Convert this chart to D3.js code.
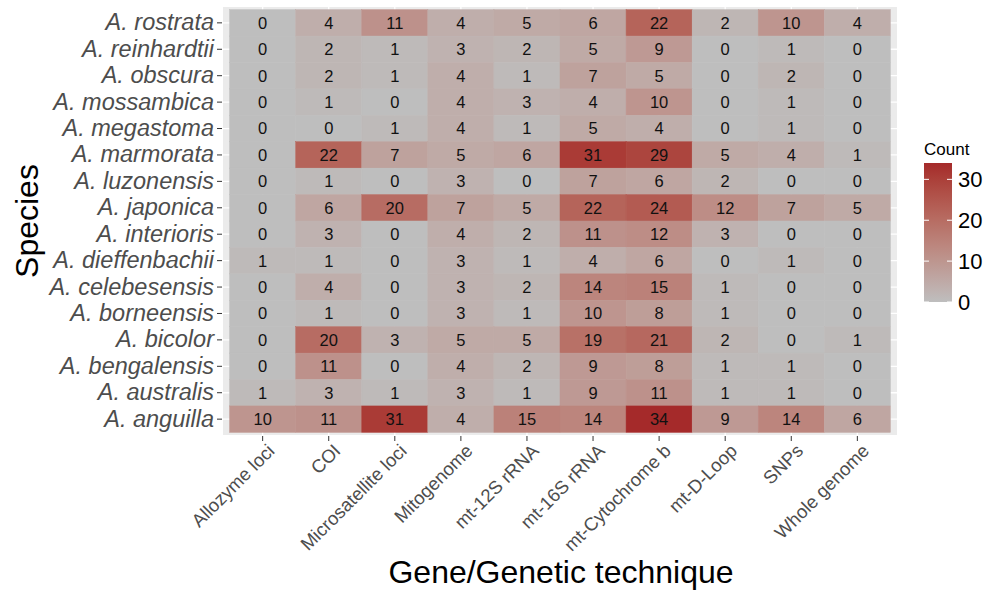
<!DOCTYPE html>
<html>
<head>
<meta charset="utf-8">
<script src="https://cdn.jsdelivr.net/npm/d3@7"></script>
<style>
  body { margin: 0; background: #fff; }
  svg { font-family: "Liberation Sans", Arial, sans-serif; }
</style>
</head>
<body>
<div id="chart"></div>
<script>
'use strict';

// techniques along x
var techniques = ["Allozyme loci", "COI", "Microsatellite loci", "Mitogenome",
    "mt-12S rRNA", "mt-16S rRNA", "mt-Cytochrome b", "mt-D-Loop", "SNPs", "Whole genome"];

// species, top to bottom
var species = ["A. rostrata", "A. reinhardtii", "A. obscura", "A. mossambica",
    "A. megastoma", "A. marmorata", "A. luzonensis", "A. japonica", "A. interioris",
    "A. dieffenbachii", "A. celebesensis", "A. borneensis", "A. bicolor",
    "A. bengalensis", "A. australis", "A. anguilla"];

// counts, one row per species (same order), one column per technique
var counts = [
    [0, 4, 11, 4, 5, 6, 22, 2, 10, 4],
    [0, 2, 1, 3, 2, 5, 9, 0, 1, 0],
    [0, 2, 1, 4, 1, 7, 5, 0, 2, 0],
    [0, 1, 0, 4, 3, 4, 10, 0, 1, 0],
    [0, 0, 1, 4, 1, 5, 4, 0, 1, 0],
    [0, 22, 7, 5, 6, 31, 29, 5, 4, 1],
    [0, 1, 0, 3, 0, 7, 6, 2, 0, 0],
    [0, 6, 20, 7, 5, 22, 24, 12, 7, 5],
    [0, 3, 0, 4, 2, 11, 12, 3, 0, 0],
    [1, 1, 0, 3, 1, 4, 6, 0, 1, 0],
    [0, 4, 0, 3, 2, 14, 15, 1, 0, 0],
    [0, 1, 0, 3, 1, 10, 8, 1, 0, 0],
    [0, 20, 3, 5, 5, 19, 21, 2, 0, 1],
    [0, 11, 0, 4, 2, 9, 8, 1, 1, 0],
    [1, 3, 1, 3, 1, 9, 11, 1, 1, 0],
    [10, 11, 31, 4, 15, 14, 34, 9, 14, 6]
];

var legendTicks = [0, 10, 20, 30];

var W = 989, H = 593;
var panel = { left: 223, right: 897, top: 7, bottom: 435 };

var cells = [];
species.forEach(function(s, i) {
    techniques.forEach(function(t, j) {
        cells.push({ species: s, technique: t, count: counts[i][j] });
    });
});

var maxCount = d3.max(cells, function(d) { return d.count; });

var x = d3.scaleBand().domain(techniques)
    .range([panel.left, panel.right]).paddingInner(0).paddingOuter(0.1);
var y = d3.scaleBand().domain(species)
    .range([panel.top, panel.bottom]).paddingInner(0).paddingOuter(0.1);
var color = d3.scaleLinear().domain([0, maxCount])
    .range(["#BEBEBE", "#A52A2A"]).interpolate(d3.interpolateLab);

var svg = d3.select("#chart").append("svg")
    .attr("width", W).attr("height", H);

// panel background + grid
svg.append("rect")
    .attr("x", panel.left).attr("y", panel.top)
    .attr("width", panel.right - panel.left).attr("height", panel.bottom - panel.top)
    .attr("fill", "#EBEBEB");

svg.append("g").selectAll("line.vx")
    .data(techniques).enter().append("line")
    .attr("x1", function(d) { return x(d) + x.bandwidth() / 2; })
    .attr("x2", function(d) { return x(d) + x.bandwidth() / 2; })
    .attr("y1", panel.top).attr("y2", panel.bottom)
    .attr("stroke", "#fff").attr("stroke-width", 1.3);

svg.append("g").selectAll("line.hy")
    .data(species).enter().append("line")
    .attr("y1", function(d) { return y(d) + y.bandwidth() / 2; })
    .attr("y2", function(d) { return y(d) + y.bandwidth() / 2; })
    .attr("x1", panel.left).attr("x2", panel.right)
    .attr("stroke", "#fff").attr("stroke-width", 1.3);

// TILES

var tiles = svg.append("g").selectAll("g")
    .data(cells).enter().append("g");

tiles.append("rect")
    .attr("x", function(d) { return x(d.technique); })
    .attr("y", function(d) { return y(d.species); })
    .attr("width", x.bandwidth())
    .attr("height", y.bandwidth())
    .attr("fill", function(d) { return color(d.count); })
    .attr("stroke", function(d) { return color(d.count); })
    .attr("stroke-width", 0.5);

tiles.append("text")
    .attr("x", function(d) { return x(d.technique) + x.bandwidth() / 2; })
    .attr("y", function(d) { return y(d.species) + y.bandwidth() / 2; })
    .attr("dy", "0.36em")
    .attr("text-anchor", "middle")
    .attr("font-size", 16.5)
    .attr("fill", "#111")
    .text(function(d) { return d.count; });

// AXES

var yAxis = d3.axisLeft(y).tickSize(5).tickPadding(3);
var gy = svg.append("g")
    .attr("transform", "translate(" + (panel.left - 1) + ",0)")
    .call(yAxis);
gy.select(".domain").remove();
gy.selectAll(".tick line").attr("stroke", "#333333").attr("stroke-width", 1);
gy.selectAll(".tick text")
    .attr("font-size", 23.5)
    .attr("font-style", "italic")
    .attr("fill", "#4D4D4D")
    .attr("font-family", "Liberation Sans, Arial, sans-serif");

var xAxis = d3.axisBottom(x).tickSize(5).tickPadding(3);
var gx = svg.append("g")
    .attr("transform", "translate(0," + (panel.bottom + 1) + ")")
    .call(xAxis);
gx.select(".domain").remove();
gx.selectAll(".tick line").attr("stroke", "#333333").attr("stroke-width", 1);
gx.selectAll(".tick text")
    .attr("font-size", 18.5)
    .attr("fill", "#4D4D4D")
    .attr("font-family", "Liberation Sans, Arial, sans-serif")
    .attr("text-anchor", "end")
    .attr("y", 0).attr("dy", 0)
    .attr("transform", "translate(13,16) rotate(-45)");

// axis titles
svg.append("text")
    .attr("x", 561)
    .attr("y", 583)
    .attr("text-anchor", "middle")
    .attr("font-size", 32)
    .attr("fill", "#000")
    .text("Gene/Genetic technique");

svg.append("text")
    .attr("transform", "translate(38," + ((panel.top + panel.bottom) / 2) + ") rotate(-90)")
    .attr("text-anchor", "middle")
    .attr("font-size", 32)
    .attr("fill", "#000")
    .text("Species");

// LEGEND

var bar = { x: 924, w: 28, top: 163, bottom: 302 };
var ly = d3.scaleLinear().domain([0, maxCount]).range([bar.bottom, bar.top]);

var grad = svg.append("defs").append("linearGradient")
    .attr("id", "countGrad")
    .attr("x1", 0).attr("y1", 1).attr("x2", 0).attr("y2", 0);
d3.range(0, 1.0001, 0.1).forEach(function(t) {
    grad.append("stop")
        .attr("offset", t)
        .attr("stop-color", color(t * maxCount));
});

svg.append("text")
    .attr("x", bar.x).attr("y", 155)
    .attr("font-size", 17)
    .attr("fill", "#000")
    .text("Count");

svg.append("rect")
    .attr("x", bar.x).attr("y", bar.top)
    .attr("width", bar.w).attr("height", bar.bottom - bar.top)
    .attr("fill", "url(#countGrad)");

var lt = svg.append("g").selectAll("g")
    .data(legendTicks).enter().append("g");

lt.append("line")
    .attr("x1", bar.x).attr("x2", bar.x + 5)
    .attr("y1", function(d) { return ly(d); })
    .attr("y2", function(d) { return ly(d); })
    .attr("stroke", "#fff").attr("stroke-width", 1);
lt.append("line")
    .attr("x1", bar.x + bar.w - 5).attr("x2", bar.x + bar.w)
    .attr("y1", function(d) { return ly(d); })
    .attr("y2", function(d) { return ly(d); })
    .attr("stroke", "#fff").attr("stroke-width", 1);

lt.append("text")
    .attr("x", bar.x + bar.w + 6)
    .attr("y", function(d) { return ly(d); })
    .attr("dy", "0.36em")
    .attr("font-size", 22)
    .attr("fill", "#000")
    .text(function(d) { return d; });
</script>
</body>
</html>
